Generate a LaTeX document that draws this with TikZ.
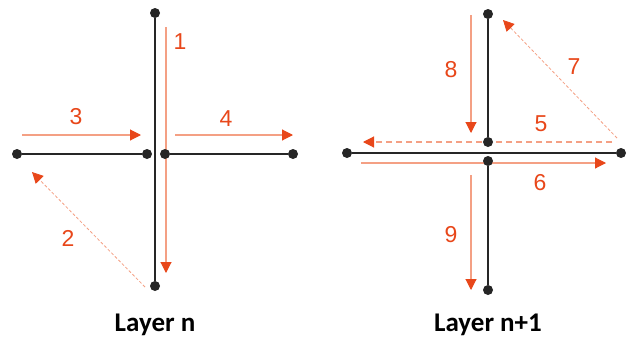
\documentclass[tikz,border=0pt]{standalone}
\usepackage{fontspec}
\setmainfont{Carlito}
\newfontfamily\numfont{Liberation Sans}
\usetikzlibrary{arrows.meta}
\definecolor{hot}{HTML}{E8471A}
\definecolor{pale}{HTML}{F4A084}
\tikzstyle{dot}=[circle,fill=black!85,minimum size=10pt,inner sep=0pt]
\tikzstyle{bar} = [draw,black!85,line width=2.8pt]
\tikzstyle{arr} = [draw,pale,line width=1.1pt,-{Triangle[hot,length=11pt,width=11pt]}]
\tikzstyle{darr} = [arr,line width=0.8pt,dash pattern=on 3pt off 2pt]
\tikzstyle{ddarr} = [arr,dash pattern=on 6pt off 4pt]
\tikzstyle{num} = [text=hot,font=\numfont\fontsize{23}{23}\selectfont]
\tikzstyle{caption} = [font=\bfseries\fontsize{27}{27}\selectfont]

\begin{document}
\begin{tikzpicture}[x=1pt, y=-1pt]
    \useasboundingbox (0,0) rectangle (629,343);
    % arrow ends
    \foreach \pos/\name in {{(166,27)/a1}, {(166,273)/b1}, {(145,287)/a2},
    {(32,172)/b2}, {(22,135)/a3}, {(141,135)/b3}, {(175,135)/a4},
    {(293,135)/b4}, {(612,142)/a5}, {(363,142)/b5}, {(361,163)/a6},
    {(606,163)/b6}, {(617,138)/a7}, {(503,20)/b7}, {(471,15)/a8},
    {(471,133)/b8}, {(471,175)/a9}, {(471,290)/b9}}
        \path \pos coordinate (\name);

    \foreach \i/\style in {1/arr,2/darr,3/arr,4/arr,5/ddarr,6/arr,7/darr,8/arr,9/arr}
        \path[\style] (a\i) -- (b\i);

    % joints
    \foreach \pos/\name in {{(155,13)/lt}, {(155,286)/lb}, {(17,154)/ll},
    {(147,154)/lca}, {(165,154)/lcb}, {(293,154)/lr},
    {(488,14)/rt}, {(488,142)/rca}, {(488,161)/rcb}, {(488,290)/rb},
    {(347,153)/rl}, {(621,153)/rr}}
        \node[dot] (\name) at \pos {};

    \foreach \source/ \dest in {lt/lb,ll/lca,lcb/lr,rt/rca,rcb/rb,rl/rr}
        \path[bar] (\source) -- (\dest);

    \foreach \pos/\name/\val in {{(180,42)/n1/1}, {(68,238)/n2/2},
    {(76,117)/n3/3}, {(226,119)/n4/4}, {(541,124)/n5/5}, {(540,183)/n6/6},
    {(574,67)/n7/7}, {(451,70)/n8/8}, {(451,235)/n9/9}}
        \node[num] (\name) at \pos {\val};

    \node[caption] (capl) at (155,325) {Layer n};
    \node[caption] (capr) at (488,325) {Layer n+1};
\end{tikzpicture}
\end{document}
